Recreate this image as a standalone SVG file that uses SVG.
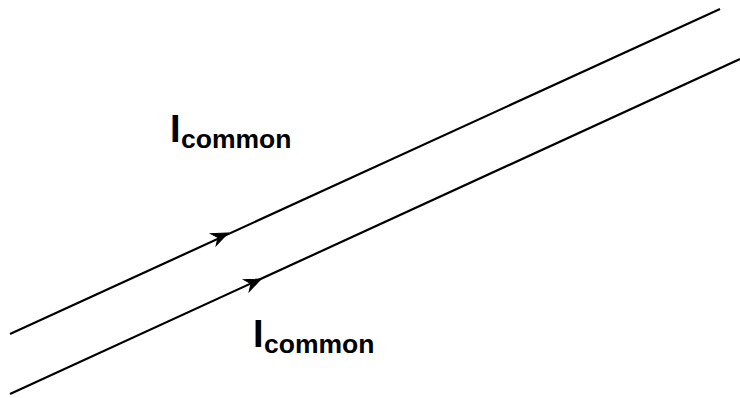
<svg xmlns="http://www.w3.org/2000/svg" width="740" height="398" viewBox="0 0 740 398">
<style>
.wire{stroke:#000;stroke-width:2.2;fill:none;stroke-linecap:butt}
.head{fill:#000;stroke:#000;stroke-width:1;stroke-linejoin:miter}
.big{font-family:"Liberation Sans",Arial,sans-serif;font-weight:bold;font-size:38px;fill:#000}
.sub{font-family:"Liberation Sans",Arial,sans-serif;font-weight:bold;font-size:26.5px;fill:#000}
</style>
<defs>
<path id="ah" d="M0,0 L-16,-6.5 L-11,0 L-16,6.5 Z"/>
</defs>
<g id="connectors">
<line class="wire" x1="10" y1="334" x2="720" y2="9"/>
<line class="wire" x1="10" y1="394" x2="740" y2="59"/>
<use href="#ah" class="head" transform="translate(228,233) rotate(-24.6)"/>
<use href="#ah" class="head" transform="translate(261,279) rotate(-24.6)"/>
</g>
<g id="label-top">
<text x="170" y="142" class="big">I</text>
<text x="181" y="148" class="sub">common</text>
</g>
<g id="label-bottom">
<text x="253" y="347" class="big">I</text>
<text x="264" y="353" class="sub">common</text>
</g>
</svg>
